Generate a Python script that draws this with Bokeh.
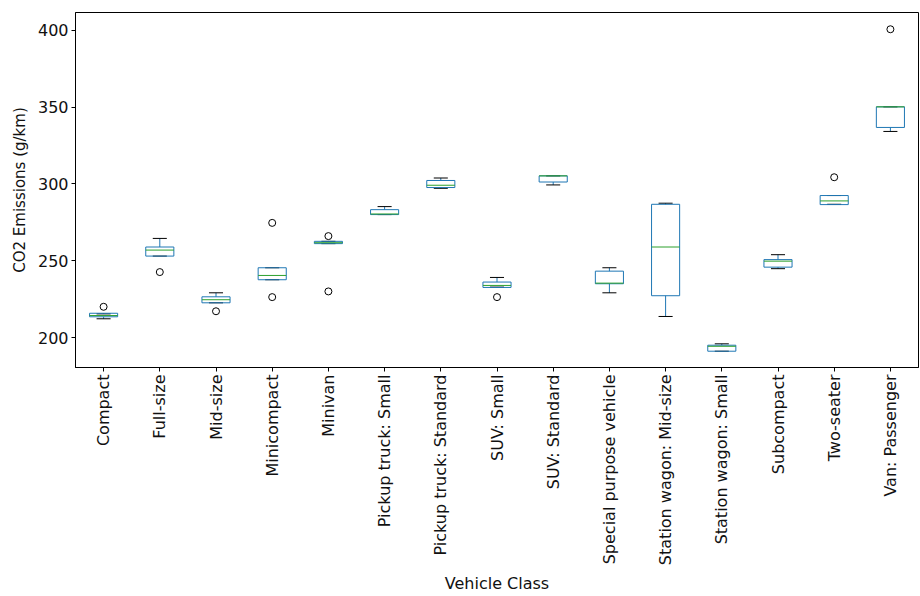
import numpy as np
from bokeh.plotting import figure
from bokeh.models import FixedTicker, ColumnDataSource, Range1d
from bokeh.embed import file_html
from bokeh.resources import INLINE

# Vehicle classes along the x axis
classes = [
    "Compact", "Full-size", "Mid-size", "Minicompact", "Minivan",
    "Pickup truck: Small", "Pickup truck: Standard", "SUV: Small",
    "SUV: Standard", "Special purpose vehicle", "Station wagon: Mid-size",
    "Station wagon: Small", "Subcompact", "Two-seater", "Van: Passenger",
]

# Box statistics per class (g/km)
whisker_lo = [212.2, 253.0, 222.6, 237.6, 261.1, 280.0, 297.1, 232.8, 299.3, 229.1, 213.7, 191.1, 244.8, 286.7, 334.1]
q1 =         [213.5, 253.0, 222.6, 237.6, 261.1, 280.0, 297.6, 232.6, 301.2, 235.0, 227.2, 191.1, 245.8, 286.5, 336.7]
median =     [214.3, 256.9, 224.6, 240.4, 261.7, 280.4, 299.1, 233.9, 305.2, 235.4, 258.9, 194.3, 249.7, 288.9, 350.1]
q3 =         [215.8, 258.9, 226.5, 245.4, 262.6, 283.2, 302.2, 236.1, 305.2, 243.2, 286.7, 195.0, 250.7, 292.4, 350.1]
whisker_hi = [215.4, 264.5, 229.1, 245.4, 262.6, 285.2, 303.8, 239.1, 305.2, 245.4, 287.4, 195.9, 253.9, 292.4, 350.1]

# Points beyond the whiskers
outlier_class = ["Compact", "Full-size", "Mid-size", "Minicompact", "Minicompact",
                 "Minivan", "Minivan", "SUV: Small", "Two-seater", "Van: Passenger"]
outlier_value = [220.0, 242.6, 217.1, 274.6, 226.3, 266.0, 230.0, 226.3, 304.3, 400.6]

y_ticks = [200, 250, 300, 350, 400]

BLUE = "#1f77b4"
GREEN = "#2ca02c"
FONT = "DejaVu Sans"

pos = np.arange(1, len(classes) + 1, dtype=float)
box_half = 0.25
cap_half = 0.125

src = ColumnDataSource(dict(
    x=pos, q1=q1, med=median, q3=q3, lo=whisker_lo, hi=whisker_hi,
    bl=pos - box_half, br=pos + box_half, cl=pos - cap_half, cr=pos + cap_half,
))
out_src = ColumnDataSource(dict(
    x=[pos[classes.index(c)] for c in outlier_class], y=outlier_value,
))

p = figure(
    frame_width=843, frame_height=355,
    x_range=Range1d(0.5, len(classes) + 0.5),
    y_range=Range1d(180.5, 411.5),
    output_backend="svg", toolbar_location=None,
    min_border_left=75, min_border_top=12, min_border_right=2, min_border_bottom=229,
)
p.background_fill_color = "white"
p.border_fill_color = "white"
p.outline_line_color = "black"
p.outline_line_width = 1
p.grid.visible = False

# whiskers
p.segment(x0="x", y0="q3", x1="x", y1="hi", source=src, line_color=BLUE, line_width=1)
p.segment(x0="x", y0="q1", x1="x", y1="lo", source=src, line_color=BLUE, line_width=1)
# caps
p.segment(x0="cl", y0="hi", x1="cr", y1="hi", source=src, line_color="black", line_width=1)
p.segment(x0="cl", y0="lo", x1="cr", y1="lo", source=src, line_color="black", line_width=1)
# boxes
p.quad(left="bl", right="br", bottom="q1", top="q3", source=src,
       fill_color=None, line_color=BLUE, line_width=1)
# medians
p.segment(x0="bl", y0="med", x1="br", y1="med", source=src, line_color=GREEN, line_width=1)
# fliers
p.scatter(x="x", y="y", source=out_src, marker="circle", size=7,
          fill_color=None, line_color="black", line_width=1)

# axes
p.xaxis.ticker = FixedTicker(ticks=list(pos))
p.xaxis.major_label_overrides = {float(v): c for v, c in zip(pos, classes)}
p.xaxis.major_label_orientation = np.pi / 2
p.yaxis.ticker = FixedTicker(ticks=y_ticks)
p.xaxis.minor_tick_line_color = None
p.yaxis.minor_tick_line_color = None

for ax in (p.xaxis, p.yaxis):
    ax.major_tick_in = 0
    ax.major_tick_out = 4
    ax.major_tick_line_color = "black"
    ax.axis_line_color = "black"
    ax.major_label_text_font = FONT
    ax.major_label_text_font_size = "16px"
    ax.major_label_text_color = "#111111"
    ax.axis_label_text_font = FONT
    ax.axis_label_text_font_size = "16px"
    ax.axis_label_text_font_style = "normal"
    ax.axis_label_text_color = "#111111"
    ax.major_label_standoff = 3

p.xaxis.axis_label = "Vehicle Class"
p.yaxis.axis_label = "CO2 Emissions (g/km)"
p.yaxis.axis_label_text_font_size = "15px"
p.xaxis.axis_label_standoff = 6
p.yaxis.axis_label_standoff = 6

open("out.html", "w").write(file_html(p, INLINE))
